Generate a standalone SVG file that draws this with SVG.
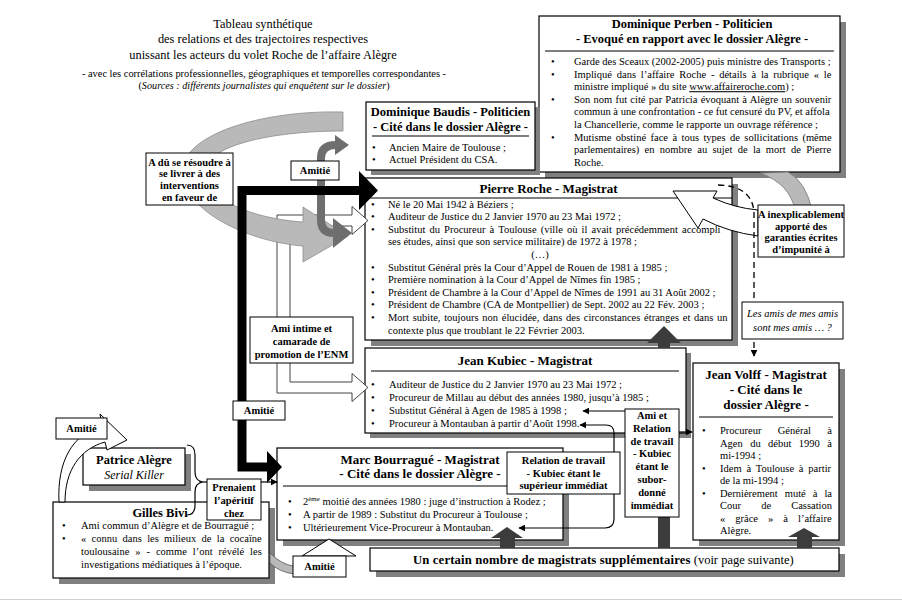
<svg xmlns="http://www.w3.org/2000/svg" width="902" height="602" viewBox="0 0 902 602">
<defs>
<style>
text{font-family:"Liberation Serif","Times New Roman",serif;fill:#000}
.b{font-size:10.5px}
.h{font-size:13px;font-weight:bold;text-anchor:middle}
.h2{font-size:12.5px;font-weight:bold;text-anchor:middle}
.lb{font-size:10.5px;font-weight:bold;text-anchor:middle}
.ttl{font-size:12.4px;text-anchor:middle}
.box{fill:#fff;stroke:#000;stroke-width:1.2}
.lbox{fill:#fff;stroke:#000;stroke-width:1}
.sh{fill:#808080}
.sep{stroke:#000;stroke-width:1}
.ln{fill:none;stroke:#000;stroke-width:1.2}
.dk{fill:#3c3c3c}
</style>
<marker id="ah" viewBox="0 0 10 10" refX="9" refY="5" markerWidth="7" markerHeight="7" markerUnits="userSpaceOnUse" orient="auto-start-reverse"><path d="M0,0 L10,5 L0,10 z" fill="#000"/></marker>
</defs>
<rect x="0" y="0" width="902" height="602" fill="#fff"/>
<line x1="0" y1="599.5" x2="902" y2="599.5" stroke="#d0d0d0"/>

<g id="title">
<text class="ttl" x="263" y="28">Tableau synthétique</text>
<text class="ttl" x="263" y="43">des relations et des trajectoires respectives</text>
<text class="ttl" x="263" y="59">unissant les acteurs du volet Roche de l’affaire Alègre</text>
<text x="264" y="77" font-size="10.4" text-anchor="middle">- avec les corrélations professionnelles, géographiques et temporelles correspondantes -</text>
<text x="264" y="89" font-size="10.2" text-anchor="middle">(<tspan font-style="italic">Sources : différents journalistes qui enquêtent sur le dossier</tspan>)</text>
</g>

<g id="perben">
<rect class="sh" x="545" y="22" width="301" height="156"/>
<rect class="box" x="539" y="16" width="301" height="156"/>
<text class="h2" x="692" y="28">Dominique Perben - Politicien</text>
<text class="h2" x="692" y="43">- Evoqué en rapport avec le dossier Alègre -</text>
<line class="sep" x1="545" y1="51" x2="834" y2="51"/>
<text class="b" x="551" y="65">•</text>
<text class="b" x="551" y="77.6">•</text>
<text class="b" x="551" y="102.8">•</text>
<text class="b" x="551" y="140.6">•</text>
<text class="b" x="574" y="65">Garde des Sceaux (2002-2005) puis ministre des Transports ;</text>
<text class="b" x="574" y="77.6" word-spacing="2.2">Impliqué dans l’affaire Roche - détails à la rubrique « le</text>
<text class="b" x="574" y="90.2">ministre impliqué » du site <tspan text-decoration="underline">www.affaireroche.com</tspan>) ;</text>
<text class="b" x="574" y="102.8" word-spacing="0.6">Son nom fut cité par Patricia évoquant à Alègre un souvenir</text>
<text class="b" x="574" y="115.4">commun à une confrontation - ce fut censuré du PV, et affola</text>
<text class="b" x="574" y="128">la Chancellerie, comme le rapporte un ouvrage référence ;</text>
<text class="b" x="574" y="140.6" word-spacing="1.8">Mutisme obstiné face à tous types de sollicitations (même</text>
<text class="b" x="574" y="153.2" word-spacing="2.7">parlementaires) en nombre au sujet de la mort de Pierre</text>
<text class="b" x="574" y="165.8">Roche.</text>
</g>

<g id="baudis">
<rect class="sh" x="371" y="107" width="169" height="68"/>
<rect class="box" x="366" y="102" width="169" height="68"/>
<text class="h2" x="450.5" y="116">Dominique Baudis - Politicien</text>
<text class="h2" x="450.5" y="131">- Cité dans le dossier Alègre -</text>
<line class="sep" x1="372" y1="136" x2="529" y2="136"/>
<text class="b" x="372" y="151">•</text>
<text class="b" x="372" y="163">•</text>
<text class="b" x="389" y="151">Ancien Maire de Toulouse ;</text>
<text class="b" x="389" y="163">Actuel Président du CSA.</text>
</g>

<g id="roche">
<rect class="sh" x="371" y="184" width="367" height="162"/>
<rect class="box" x="365" y="178" width="367" height="162"/>
<text class="h" x="548.5" y="193">Pierre Roche - Magistrat</text>
<line class="sep" x1="365" y1="198" x2="732" y2="198"/>
<text class="b" x="371" y="207.5">•</text>
<text class="b" x="371" y="220.1">•</text>
<text class="b" x="371" y="232.7">•</text>
<text class="b" x="371" y="270.5">•</text>
<text class="b" x="371" y="283.1">•</text>
<text class="b" x="371" y="295.7">•</text>
<text class="b" x="371" y="308.3">•</text>
<text class="b" x="371" y="320.9">•</text>
<text class="b" x="388" y="207.5">Né le 20 Mai 1942 à Béziers ;</text>
<text class="b" x="388" y="220.1">Auditeur de Justice du 2 Janvier 1970 au 23 Mai 1972 ;</text>
<text class="b" x="388" y="232.7" word-spacing="1.5">Substitut du Procureur à Toulouse (ville où il avait précédemment accompli</text>
<text class="b" x="388" y="245.3">ses études, ainsi que son service militaire) de 1972 à 1978 ;</text>
<text class="b" x="540" y="257.9" text-anchor="middle">(…)</text>
<text class="b" x="388" y="270.5">Substitut Général près la Cour d’Appel de Rouen de 1981 à 1985 ;</text>
<text class="b" x="388" y="283.1">Première nomination à la Cour d’Appel de Nîmes fin 1985 ;</text>
<text class="b" x="388" y="295.7">Président de Chambre à la Cour d’Appel de Nîmes de 1991 au 31 Août 2002 ;</text>
<text class="b" x="388" y="308.3">Président de Chambre (CA de Montpellier) de Sept. 2002 au 22 Fév. 2003 ;</text>
<text class="b" x="388" y="320.9" word-spacing="1.1">Mort subite, toujours non élucidée, dans des circonstances étranges et dans un</text>
<text class="b" x="388" y="333.5">contexte plus que troublant le 22 Février 2003.</text>
</g>

<g id="kubiec">
<rect class="sh" x="370" y="353" width="321" height="85"/>
<rect class="box" x="365" y="348" width="321" height="85"/>
<text class="h" x="525" y="365">Jean Kubiec - Magistrat</text>
<line class="sep" x1="371" y1="371" x2="679" y2="371"/>
<text class="b" x="371" y="388">•</text>
<text class="b" x="371" y="401">•</text>
<text class="b" x="371" y="414">•</text>
<text class="b" x="371" y="427">•</text>
<text class="b" x="389" y="388">Auditeur de Justice du 2 Janvier 1970 au 23 Mai 1972 ;</text>
<text class="b" x="389" y="401">Procureur de Millau au début des années 1980, jusqu’à 1985 ;</text>
<text class="b" x="389" y="414">Substitut Général à Agen de 1985 à 1998 ;</text>
<text class="b" x="389" y="427">Procureur à Montauban à partir d’Août 1998.</text>
</g>

<g id="bourrague">
<rect class="sh" x="283" y="454" width="286" height="92"/>
<rect class="box" x="277" y="448" width="286" height="92"/>
<text class="h" x="420" y="464">Marc Bourragué - Magistrat</text>
<text class="h" x="420" y="478">- Cité dans le dossier Alègre -</text>
<line class="sep" x1="283" y1="486" x2="557" y2="486"/>
<text class="b" x="288" y="505">•</text>
<text class="b" x="288" y="518">•</text>
<text class="b" x="288" y="531">•</text>
<text class="b" x="303" y="505">2<tspan font-size="7" dy="-4">ème</tspan><tspan dy="4"> moitié des années 1980 : juge d’instruction à Rodez ;</tspan></text>
<text class="b" x="303" y="518">A partir de 1989 : Substitut du Procureur à Toulouse ;</text>
<text class="b" x="303" y="531">Ultérieurement Vice-Procureur à Montauban.</text>
</g>

<g id="autres">
<rect class="sh" x="376" y="554" width="469" height="23"/>
<rect class="box" x="370" y="548" width="469" height="23"/>
<text x="413" y="564" font-size="12.7"><tspan font-weight="bold" letter-spacing="0.15">Un certain nombre de magistrats supplémentaires</tspan><tspan font-size="12.5"> (voir page suivante)</tspan></text>
</g>

<g id="patrice">
<rect class="sh" x="89" y="454" width="102" height="37"/>
<rect class="box" x="83" y="448" width="102" height="37"/>
<text class="h2" x="134" y="464">Patrice Alègre</text>
<text x="134" y="479" font-size="12" font-style="italic" text-anchor="middle">Serial Killer</text>
</g>

<g id="bivi">
<rect class="sh" x="59" y="508" width="216" height="76"/>
<rect class="box" x="53" y="502" width="216" height="76"/>
<text class="h2" x="160" y="517">Gilles Bivi</text>
<text class="b" x="62" y="529">•</text>
<text class="b" x="62" y="542">•</text>
<text class="b" x="81" y="529">Ami commun d’Alègre et de Bourragué ;</text>
<text class="b" x="81" y="542" word-spacing="2.7">« connu dans les milieux de la cocaïne</text>
<text class="b" x="81" y="555" word-spacing="3.3">toulousaine » - comme l’ont révélé les</text>
<text class="b" x="81" y="568">investigations médiatiques à l’époque.</text>
</g>

<g id="volff">
<rect class="sh" x="699" y="369" width="146" height="177"/>
<rect class="box" x="693" y="363" width="146" height="177"/>
<text class="h" x="766" y="379">Jean Volff - Magistrat</text>
<text class="h" x="766" y="394">- Cité dans le</text>
<text class="h" x="766" y="409">dossier Alègre -</text>
<line class="sep" x1="699" y1="417" x2="833" y2="417"/>
<text class="b" x="702" y="434">•</text>
<text class="b" x="702" y="471.5">•</text>
<text class="b" x="702" y="496.5">•</text>
<text class="b" x="720" y="434" word-spacing="13.7">Procureur Général à</text>
<text class="b" x="720" y="446.5" word-spacing="4.8">Agen du début 1990 à</text>
<text class="b" x="720" y="459">mi-1994 ;</text>
<text class="b" x="720" y="471.5" word-spacing="2.2">Idem à Toulouse à partir</text>
<text class="b" x="720" y="484">de la mi-1994 ;</text>
<text class="b" x="720" y="496.5" word-spacing="4.4">Dernièrement muté à la</text>
<text class="b" x="720" y="509" word-spacing="17.5">Cour de Cassation</text>
<text class="b" x="720" y="521.5" word-spacing="7.4">« grâce » à l’affaire</text>
<text class="b" x="720" y="534">Alègre.</text>
</g>

<g id="connectors">
<path d="M 368 220.5 L 352 206.5 L 352 215 L 277 215 L 277 393 L 352 393 L 352 401.5 L 368 387.5 L 352 373.5 L 352 382 L 290 382 L 290 226 L 352 226 L 352 234.5 Z" fill="#fff" stroke="#444" stroke-width="1"/>
<path d="M 343 112 C 260 110 182 135 182 172 C 184 212 250 242 303 246 L 303 262 L 348 236 L 303 207 L 303 222 C 255 219 205 200 205 172 C 205 146 270 131 343 131 Z" fill="#b9b9b9" stroke="#8c8c8c" stroke-width="0.8"/>
<path d="M 334 233 Q 321 233 321 220 L 321 158 Q 321 145 336 145" fill="none" stroke="#6e6e6e" stroke-width="8"/>
<polygon points="333,218 352,233 333,248" fill="#6e6e6e"/>
<polygon points="335,135 349,145 335,155" fill="#6e6e6e"/>
<path d="M 268 467 H 242 V 190.5 H 361" fill="none" stroke="#000" stroke-width="9"/>
<polygon points="359,171 378,190.5 359,210" fill="#000"/>
<polygon points="267,451 282,467 267,483" fill="#000"/>
<path d="M 760 173 Q 790 184 795 210 L 812 210 Q 806 182 788 172 Z" fill="#b9b9b9" stroke="#777" stroke-width="0.8"/>
<path d="M 673 191 L 717 191 L 713 198 Q 735 208 758 210 L 758 236 Q 728 232 703 219 L 698 228 Z" fill="#fff" stroke="#000" stroke-width="1"/>
<path d="M 718 185 Q 752 186 754 212 V 356" fill="none" stroke="#000" stroke-width="1.3" stroke-dasharray="6 4" marker-end="url(#ah)"/>
<polygon class="dk" points="647,343 664,326 681,343"/>
<rect class="dk" x="658" y="343" width="12" height="5"/>
<rect class="dk" x="658" y="517" width="12" height="31"/>
<polygon class="dk" points="491,538 507,527 523,538"/>
<rect class="dk" x="500" y="538" width="15" height="10"/>
<polygon class="dk" points="788,537 804,528 820,537"/>
<rect class="dk" x="797" y="537" width="15" height="11"/>
<line class="ln" x1="679" y1="432" x2="692" y2="432" marker-end="url(#ah)"/>
<line class="ln" x1="625" y1="411" x2="583" y2="411" marker-end="url(#ah)"/>
<path class="ln" d="M 580 425 H 606 Q 614 425 614 433 V 519 Q 614 528 605 528 H 519" marker-start="url(#ah)" marker-end="url(#ah)"/>
<line class="ln" x1="261" y1="482" x2="277" y2="482" marker-end="url(#ah)"/>
<path class="ln" d="M 187 445 Q 195 445 195 455 L 195 472 Q 195 481 203 482 Q 195 483 195 492 L 195 505 Q 195 515 187 515"/>
<line class="ln" x1="203" y1="482" x2="207" y2="482"/>
<path d="M 59 502 C 57 462 72 434 102 426 L 100 414 L 127 440 L 107 450 L 105 442 C 80 449 65 470 65 502 Z" fill="#fff" stroke="#000" stroke-width="1"/>
<path d="M 270 553 Q 282 565 294 566 L 294 574 Q 279 572 270 563 Z" fill="#b9b9b9" stroke="#555" stroke-width="0.8"/>
<polygon points="302,556 329,539 356,556" fill="#fff" stroke="#000" stroke-width="1"/>
</g>

<g id="lbl-interventions">
<rect class="lbox" x="146" y="153" width="87" height="52"/>
<text class="lb" x="189.5" y="165.5">A dû se résoudre à</text>
<text class="lb" x="189.5" y="177">se livrer à des</text>
<text class="lb" x="189.5" y="189">interventions</text>
<text class="lb" x="189.5" y="200.5">en faveur de</text>
</g>
<g id="lbl-amitie1">
<rect class="lbox" x="291" y="161" width="48" height="19"/>
<text class="lb" x="315" y="174">Amitié</text>
</g>
<g id="lbl-enm">
<rect class="lbox" x="250" y="317" width="103" height="46"/>
<text class="lb" x="301.5" y="332">Ami intime et</text>
<text class="lb" x="301.5" y="345">camarade de</text>
<text class="lb" x="301.5" y="358">promotion de l’ENM</text>
</g>
<g id="lbl-amitie2">
<rect class="lbox" x="233" y="401" width="52" height="19"/>
<text class="lb" x="259" y="414">Amitié</text>
</g>
<g id="lbl-amitie3">
<rect class="lbox" x="56" y="418" width="51" height="21"/>
<text class="lb" x="81.5" y="432">Amitié</text>
</g>
<g id="lbl-aperitif">
<rect class="lbox" x="207" y="479" width="54" height="41"/>
<text class="lb" x="234" y="491">Prenaient</text>
<text class="lb" x="234" y="504">l’apéritif</text>
<text class="lb" x="234" y="517">chez</text>
</g>
<g id="lbl-amitie4">
<rect class="lbox" x="293" y="556" width="53" height="21"/>
<text class="lb" x="319.5" y="570">Amitié</text>
</g>
<g id="lbl-superieur">
<rect class="lbox" x="507" y="452" width="113" height="42"/>
<text class="lb" x="563.5" y="464">Relation de travail</text>
<text class="lb" x="563.5" y="476.5">- Kubiec étant le</text>
<text class="lb" x="563.5" y="489">supérieur immédiat</text>
</g>
<g id="lbl-subordonne">
<rect class="lbox" x="625" y="409" width="54" height="108"/>
<text class="lb" x="652" y="419">Ami et</text>
<text class="lb" x="652" y="431.8">Relation</text>
<text class="lb" x="652" y="444.6">de travail</text>
<text class="lb" x="652" y="457.4">- Kubiec</text>
<text class="lb" x="652" y="470.2">étant le</text>
<text class="lb" x="652" y="483">subor-</text>
<text class="lb" x="652" y="495.8">donné</text>
<text class="lb" x="652" y="508.6">immédiat</text>
</g>
<g id="lbl-impunite">
<rect class="lbox" x="758" y="205" width="86" height="52"/>
<text class="lb" x="801" y="218" font-size="10">A inexplicablement</text>
<text class="lb" x="801" y="229.5" font-size="10">apporté des</text>
<text class="lb" x="801" y="241" font-size="10">garanties écrites</text>
<text class="lb" x="801" y="252.5" font-size="10">d’impunité à</text>
</g>
<g id="lbl-amis">
<rect class="lbox" x="742" y="302" width="101" height="37"/>
<text x="792.5" y="317" font-size="10.5" font-style="italic" text-anchor="middle">Les amis de mes amis</text>
<text x="792.5" y="331" font-size="10.5" font-style="italic" text-anchor="middle">sont mes amis … ?</text>
</g>
</svg>
